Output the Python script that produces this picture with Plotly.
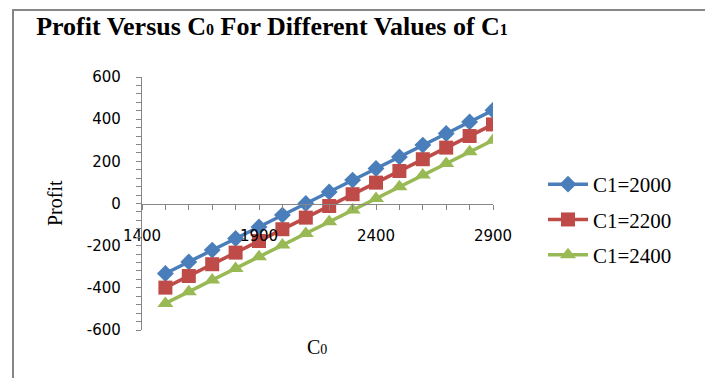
import plotly.graph_objects as go

c0 = [1500, 1600, 1700, 1800, 1900, 2000, 2100, 2200, 2300, 2400, 2500, 2600, 2700, 2800, 2900]
profit_c1_2000 = [-332, -277, -221, -166, -111, -55, 0, 55, 111, 166, 221, 277, 332, 387, 442]
profit_c1_2200 = [-399, -344, -288, -233, -178, -122, -67, -12, 44, 99, 154, 210, 265, 320, 375]
profit_c1_2400 = [-474, -419, -363, -308, -253, -197, -142, -87, -31, 24, 79, 135, 190, 245, 300]
series_names = ["C1=2000", "C1=2200", "C1=2400"]
x_tick_vals = [1400, 1900, 2400, 2900]
y_tick_vals = [-600, -400, -200, 0, 200, 400, 600]

# page body has an 8px default margin: work in screen pixels and shift
OFF = 8
W, H = 713 - OFF, 378 - OFF
L, R, T, B = 142 - OFF, 493 - OFF, 77 - OFF, 330 - OFF  # plot area in figure px
pw, ph = R - L, B - T

def px(sx):
    return (sx - OFF - L) / pw

def py(sy):
    return (B - (sy - OFF)) / ph

colors = ["#4A7EBB", "#BE4B48", "#98B954"]
symbols = ["diamond", "square", "triangle-up"]
sizes = [13, 14, 14]
series = [profit_c1_2000, profit_c1_2200, profit_c1_2400]

fig = go.Figure()
for i, (name, ys) in enumerate(zip(series_names, series)):
    fig.add_trace(go.Scatter(
        x=c0, y=ys, name=name, mode="lines+markers",
        line=dict(color=colors[i], width=3.5),
        marker=dict(symbol=symbols[i], size=sizes[i], color=colors[i]),
        legendgroup=name,
    ))

axis_gray = "#868686"
tickfont = dict(family="DejaVu Sans", size=15, color="#000000")
serif = "Liberation Serif"

fig.update_layout(
    width=W, height=H,
    margin=dict(l=L, r=W - R, t=T, b=H - B, autoexpand=False),
    paper_bgcolor="white", plot_bgcolor="white",
    title=dict(
        text="Profit Versus C<span style='font-size:16px'>0</span> For Different Values of C<span style='font-size:16px'>1</span>",
        font=dict(family=serif, size=26, color="black", weight="bold"),
        xref="container", yref="container",
        x=(272 - OFF) / W, xanchor="center",
        y=1 - (26 - OFF) / H, yanchor="middle",
    ),
    xaxis=dict(
        range=[1400, 2900], tickvals=x_tick_vals, ticktext=[str(v) for v in x_tick_vals],
        anchor="free", position=0.5, automargin=False,
        showline=True, linecolor=axis_gray, linewidth=1.3,
        ticks="outside", ticklen=5, tickcolor=axis_gray, tickwidth=1.3,
        minor=dict(dtick=100, tick0=1400, ticks="outside", ticklen=5, tickcolor=axis_gray, tickwidth=1.3),
        ticklabelstandoff=13,
        showgrid=False, zeroline=False, tickfont=tickfont,
    ),
    yaxis=dict(
        range=[-600, 600], tickvals=y_tick_vals,
        ticktext=[str(v) for v in y_tick_vals],
        automargin=False,
        showline=True, linecolor=axis_gray, linewidth=1.3,
        ticks="outside", ticklen=5, tickcolor=axis_gray, tickwidth=1.3,
        minor=dict(dtick=40, tick0=0, ticks="outside", ticklen=5, tickcolor=axis_gray, tickwidth=1.3),
        ticklabelstandoff=12,
        showgrid=False, zeroline=False, tickfont=tickfont,
    ),
    legend=dict(
        xref="container", yref="container",
        x=(543 - OFF) / W, xanchor="left",
        y=1 - (164 - OFF) / H, yanchor="top",
        font=dict(family=serif, size=21, color="black"),
        itemwidth=40, tracegroupgap=5,
        bgcolor="rgba(0,0,0,0)",
    ),
    showlegend=True,
)

fig.add_annotation(text="Profit", xref="paper", yref="paper",
                   x=px(55), y=py(203), showarrow=False, textangle=-90,
                   font=dict(family=serif, size=20, color="black"),
                   xanchor="center", yanchor="middle")
fig.add_annotation(text="C<span style='font-size:14px'>0</span>", xref="paper", yref="paper",
                   x=px(317), y=py(347), showarrow=False,
                   font=dict(family=serif, size=20, color="black"),
                   xanchor="center", yanchor="middle")

fig.add_shape(type="rect", xref="paper", yref="paper",
              x0=px(13), x1=px(707), y0=py(395), y1=py(10),
              line=dict(color=axis_gray, width=2), fillcolor="rgba(0,0,0,0)", layer="below")

fig.write_html("out.html")
